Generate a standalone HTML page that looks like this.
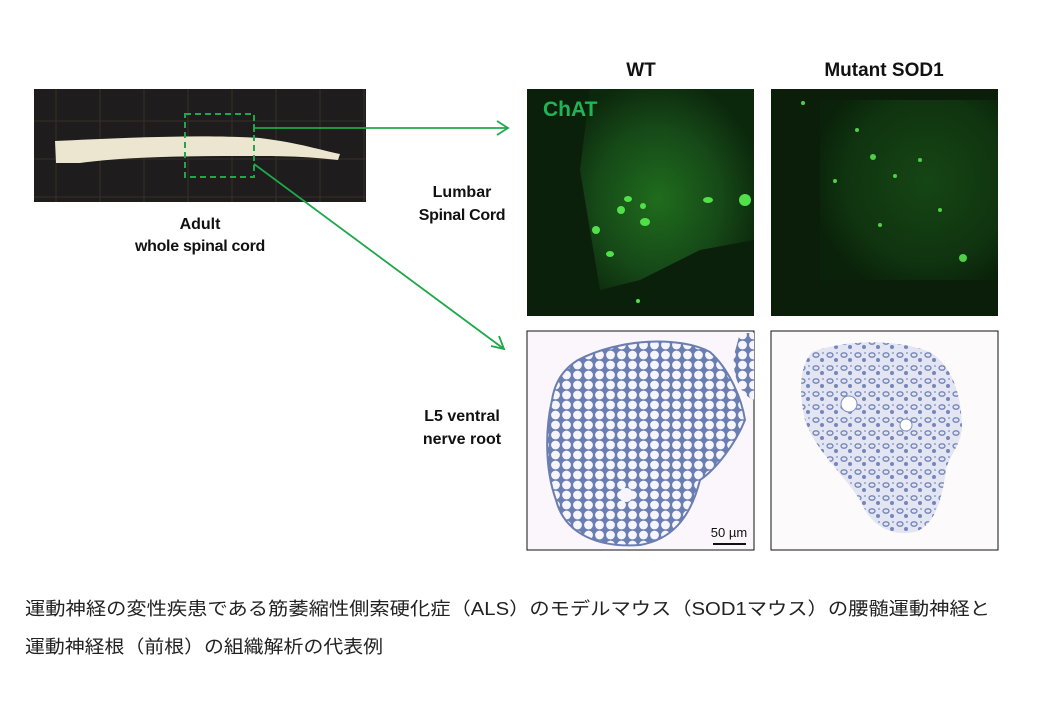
<!DOCTYPE html>
<html><head><meta charset="utf-8"><style>
html,body{margin:0;padding:0;background:#fff;}
body{width:1040px;height:720px;overflow:hidden;}
text{font-family:"Liberation Sans",Arial,sans-serif;}
.jp{font-family:"Liberation Sans","Noto Sans CJK JP",sans-serif;}
</style></head><body>
<svg width="1040" height="720" viewBox="0 0 1040 720" xmlns="http://www.w3.org/2000/svg">
<defs>
 <pattern id="grid" width="44" height="38" patternUnits="userSpaceOnUse">
  <rect width="44" height="38" fill="#1e1c1c"/>
  <line x1="12" y1="0" x2="12" y2="38" stroke="#3a2f28" stroke-width="1"/>
  <line x1="0" y1="7" x2="44" y2="7" stroke="#3a2f28" stroke-width="1"/>
 </pattern>
 <radialGradient id="g1" cx="0.45" cy="0.55" r="0.6">
  <stop offset="0" stop-color="#237a20"/><stop offset="0.6" stop-color="#18501a"/><stop offset="1" stop-color="#0c2a0c"/>
 </radialGradient>
 <radialGradient id="g2" cx="0.6" cy="0.45" r="0.65">
  <stop offset="0" stop-color="#174a16"/><stop offset="0.7" stop-color="#103610"/><stop offset="1" stop-color="#0a220a"/>
 </radialGradient>
 <pattern id="cells" width="11" height="10" patternUnits="userSpaceOnUse">
  <rect width="11" height="10" fill="#6a7eb2"/>
  <circle cx="5.5" cy="5" r="4.4" fill="#f6f4fc"/>
 </pattern>
 <pattern id="spots" width="14" height="13" patternUnits="userSpaceOnUse">
  <rect width="14" height="13" fill="#e3e4f2"/>
  <ellipse cx="4" cy="4" rx="3" ry="2.2" fill="none" stroke="#6a7fb3" stroke-width="1.3"/>
  <circle cx="10" cy="9" r="2" fill="#6d80b8"/>
  <circle cx="11" cy="2" r="1" fill="#8d9ccc"/>
 </pattern>
</defs>

<!-- spinal cord photo -->
<rect x="34" y="89" width="332" height="113" fill="url(#grid)"/>
<path d="M55 141 C120 138 200 134 260 138 C300 143 320 150 340 154 L338 160 C310 157 290 156 260 156 C200 156 130 156 80 163 L56 163 Z" fill="#ece6d0"/>
<rect x="185" y="114" width="69" height="63" fill="none" stroke="#1fa84a" stroke-width="2" stroke-dasharray="6,4"/>
<text x="200" y="229" font-size="16" font-weight="bold" text-anchor="middle" fill="#111">Adult</text>
<text x="200" y="251" font-size="16" font-weight="bold" text-anchor="middle" fill="#111" letter-spacing="-0.3">whole spinal cord</text>

<!-- arrows -->
<g stroke="#1fa84a" stroke-width="1.8" fill="none">
 <line x1="254" y1="128" x2="508" y2="128"/>
 <polyline points="497,121 508,128 497,135"/>
 <line x1="254" y1="164" x2="504" y2="349"/>
 <polyline points="491,346 504,349 499,336"/>
 <line x1="254" y1="124" x2="254" y2="132"/>
</g>

<!-- headers -->
<text x="641" y="76" font-size="19" font-weight="bold" text-anchor="middle" fill="#111">WT</text>
<text x="884" y="76" font-size="19" font-weight="bold" text-anchor="middle" fill="#111">Mutant SOD1</text>
<text x="462" y="197" font-size="16" font-weight="bold" text-anchor="middle" fill="#111">Lumbar</text>
<text x="462" y="220" font-size="16" font-weight="bold" text-anchor="middle" fill="#111" letter-spacing="-0.3">Spinal Cord</text>
<text x="462" y="421" font-size="16" font-weight="bold" text-anchor="middle" fill="#111">L5 ventral</text>
<text x="462" y="444" font-size="16" font-weight="bold" text-anchor="middle" fill="#111">nerve root</text>

<!-- fluorescence panels -->
<rect x="527" y="89" width="227" height="227" fill="#0b200b"/>
<path d="M590 89 L754 89 L754 240 L700 250 L640 280 L600 290 L590 230 L580 170 Z" fill="url(#g1)" opacity="0.85"/>
<g fill="#52e04a">
 <ellipse cx="628" cy="199" rx="4" ry="3"/><ellipse cx="621" cy="210" rx="4" ry="4"/><ellipse cx="645" cy="222" rx="5" ry="4"/>
 <ellipse cx="596" cy="230" rx="4" ry="4"/><ellipse cx="708" cy="200" rx="5" ry="3"/><ellipse cx="745" cy="200" rx="6" ry="6"/>
 <ellipse cx="610" cy="254" rx="4" ry="3"/><ellipse cx="643" cy="206" rx="3" ry="3"/><ellipse cx="638" cy="301" rx="2" ry="2"/>
</g>
<text x="543" y="116" font-size="21" font-weight="bold" fill="#1fb555">ChAT</text>

<rect x="771" y="89" width="227" height="227" fill="#0a1e0a"/>
<rect x="820" y="100" width="178" height="180" fill="url(#g2)" opacity="0.9"/>
<g fill="#4fcf48">
 <circle cx="873" cy="157" r="3"/><circle cx="963" cy="258" r="4"/><circle cx="857" cy="130" r="2"/>
 <circle cx="895" cy="176" r="2"/><circle cx="835" cy="181" r="2"/><circle cx="920" cy="160" r="2"/>
 <circle cx="940" cy="210" r="2"/><circle cx="880" cy="225" r="2"/><circle cx="803" cy="103" r="2"/>
</g>

<!-- nerve root panels -->
<rect x="527" y="331" width="227" height="219" fill="#faf6fb" stroke="#111" stroke-width="1"/>
<path d="M578 360 C620 338 680 336 710 352 C730 370 742 400 745 420 C735 445 715 470 700 480 C690 520 670 540 640 545 C600 548 565 535 556 500 C545 470 545 430 552 400 C555 380 565 368 578 360 Z" fill="url(#cells)" stroke="#6a7eb2" stroke-width="2"/>
<path d="M740 333 L754 333 L754 400 C740 395 732 375 734 355 Z" fill="url(#cells)"/>
<circle cx="626" cy="495" r="7" fill="#f6f4fc"/>
<text x="729" y="537" font-size="13" text-anchor="middle" fill="#111">50 µm</text>
<line x1="713" y1="544" x2="746" y2="544" stroke="#111" stroke-width="2"/>

<rect x="771" y="331" width="227" height="219" fill="#fcfafa" stroke="#111" stroke-width="1"/>
<path d="M812 352 C850 338 900 340 930 352 C955 368 962 400 962 430 C958 450 948 458 946 470 C942 500 935 525 915 532 C890 537 870 525 860 500 C840 470 815 450 805 420 C798 390 800 365 812 352 Z" fill="url(#spots)" opacity="0.95"/>
<circle cx="849" cy="404" r="8" fill="#fff" stroke="#7d8fc0"/>
<circle cx="906" cy="425" r="6" fill="#fff" stroke="#7d8fc0"/>

<!-- caption -->
<text class="jp" x="25" y="615" font-size="18" fill="#222" textLength="965" lengthAdjust="spacingAndGlyphs">運動神経の変性疾患である筋萎縮性側索硬化症（ALS）のモデルマウス（SOD1マウス）の腰髄運動神経と</text>
<text class="jp" x="25" y="653" font-size="18" fill="#222" textLength="358" lengthAdjust="spacingAndGlyphs">運動神経根（前根）の組織解析の代表例</text>
</svg>
</body></html>
